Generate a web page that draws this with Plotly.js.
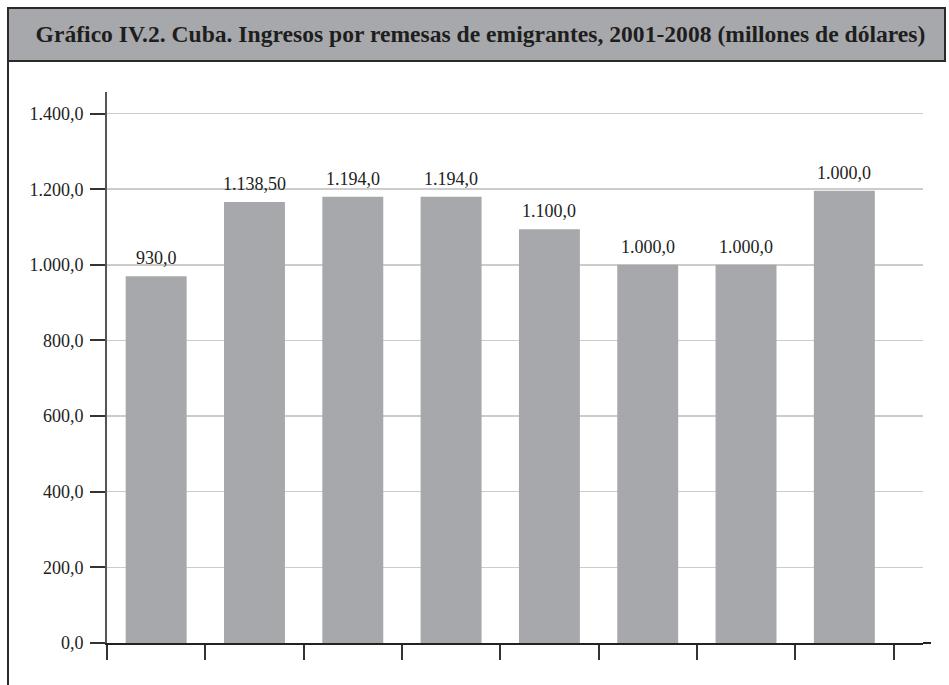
<!DOCTYPE html>
<html>
<head>
<meta charset="utf-8">
<script src="https://cdn.plot.ly/plotly-3.0.1.min.js"></script>
<style>
  html, body { margin: 0; padding: 0; background: #ffffff; }
  #chart { width: 949px; height: 685px; }
</style>
</head>
<body>
<div id="chart"></div>
<script>
// Data
const years = ["2001", "2002", "2003", "2004", "2005", "2006", "2007", "2008"];
const barValues = [970, 1166, 1180, 1180, 1094, 1000, 1000, 1196];
const barLabels = ["930,0", "1.138,50", "1.194,0", "1.194,0", "1.100,0", "1.000,0", "1.000,0", "1.000,0"];
const yTicks = [0, 200, 400, 600, 800, 1000, 1200, 1400];
const titleText = "Gráfico IV.2. Cuba. Ingresos por remesas de emigrantes, 2001-2008 (millones de dólares)";

const W = 949, H = 685;
const mL = 107, mR = 26, mT = 92, mB = 42;
const pw = W - mL - mR, ph = H - mT - mB;
const px = v => (v - mL) / pw;          // pixel x -> paper x
const py = v => (H - mB - v) / ph;      // pixel y -> paper y

const trace = {
  type: 'bar',
  x: years,
  y: barValues,
  marker: { color: '#a7a8ab', line: { width: 0 } },
  hoverinfo: 'skip'
};

const annotations = years.map((yr, i) => ({
  x: i, y: barValues[i], xref: 'x', yref: 'y',
  text: barLabels[i], showarrow: false,
  xanchor: 'center', yanchor: 'bottom', yshift: 6,
  font: { family: 'Liberation Serif, serif', size: 18, color: '#222' }
}));

const layout = {
  width: W, height: H,
  margin: { l: mL, r: mR, t: mT, b: mB, pad: 0 },
  paper_bgcolor: '#ffffff',
  plot_bgcolor: '#ffffff',
  showlegend: false,
  separators: ',.',
  bargap: 0.38,
  font: { family: 'Liberation Serif, serif', size: 18, color: '#222' },
  title: {
    text: '<b>' + titleText + '</b>',
    xref: 'paper', x: px(480.5), xanchor: 'center',
    yref: 'container', y: 1 - 34 / H, yanchor: 'middle',
    font: { family: 'Liberation Serif, serif', size: 23.6, color: '#1e1e1e' }
  },
  xaxis: {
    type: 'category',
    range: [-0.5, 7.8],
    showticklabels: false,
    showgrid: false,
    zeroline: false,
    ticks: 'outside', tickson: 'boundaries',
    ticklen: 15, tickwidth: 2, tickcolor: '#333',
    showline: true, linecolor: '#222', linewidth: 2,
    layer: 'below traces',
    fixedrange: true
  },
  yaxis: {
    range: [0, 1457],
    tickvals: yTicks,
    tickformat: ',.1f',
    ticks: 'outside', ticklen: 15, tickwidth: 2, tickcolor: '#333',
    ticklabelstandoff: 3,
    showgrid: true, gridcolor: '#cccccc', gridwidth: 1.5,
    zeroline: false,
    showline: true, linecolor: '#555', linewidth: 2,
    tickfont: { family: 'Liberation Serif, serif', size: 18, color: '#222' },
    layer: 'below traces',
    fixedrange: true
  },
  shapes: [
    // title box
    { type: 'rect', xref: 'paper', yref: 'paper',
      x0: px(8), x1: px(945), y0: py(61), y1: py(8),
      fillcolor: '#a7a8ab', line: { color: '#2a2a2a', width: 2 }, layer: 'below' },
    // left frame line
    { type: 'line', xref: 'paper', yref: 'paper',
      x0: px(8), x1: px(8), y0: py(61), y1: py(H + 2),
      line: { color: '#2a2a2a', width: 2 } },
    // x axis line extension
    { type: 'line', xref: 'paper', yref: 'paper',
      x0: 1, x1: px(931), y0: 0, y1: 0,
      line: { color: '#222', width: 2 } }
  ],
  annotations: annotations
};

Plotly.newPlot('chart', [trace], layout, { displayModeBar: false, staticPlot: true });
</script>
</body>
</html>
